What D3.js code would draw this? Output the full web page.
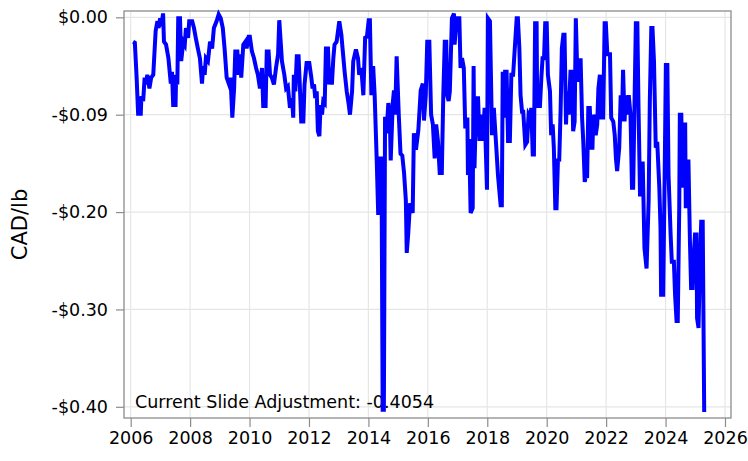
<!DOCTYPE html>
<html>
<head>
<meta charset="utf-8">
<script src="https://cdn.jsdelivr.net/npm/d3@7"></script>
<style>
  body { margin: 0; background: #fff; }
  text { font-family: "DejaVu Sans", sans-serif; fill: #000; }
</style>
</head>
<body>
<script>
// slide adjustment, CAD/lb, [decimal year, value]
var slideData = [
  [2006.08,-0.025],[2006.14,-0.026],[2006.2,-0.062],[2006.25,-0.099],[2006.34,-0.099],[2006.36,-0.081],
  [2006.42,-0.086],[2006.47,-0.062],[2006.51,-0.069],[2006.56,-0.059],[2006.63,-0.073],[2006.69,-0.062],
  [2006.76,-0.059],[2006.84,-0.014],[2006.9,-0.004],[2006.94,-0.011],[2006.99,-0.001],[2007.03,-0.009],
  [2007.09,0.004],[2007.12,-0.025],[2007.19,-0.028],[2007.27,-0.042],[2007.35,-0.068],[2007.39,-0.056],
  [2007.43,-0.090],[2007.51,-0.090],[2007.53,-0.059],[2007.57,-0.069],[2007.6,-0.001],[2007.66,-0.001],
  [2007.7,-0.045],[2007.77,-0.025],[2007.82,-0.028],[2007.86,-0.011],[2007.93,-0.021],[2007.97,-0.004],
  [2008.07,-0.004],[2008.13,-0.011],[2008.19,-0.021],[2008.26,-0.032],[2008.33,-0.042],[2008.4,-0.068],
  [2008.44,-0.050],[2008.49,-0.059],[2008.53,-0.042],[2008.6,-0.045],[2008.67,-0.025],[2008.74,-0.032],
  [2008.8,-0.011],[2008.89,-0.004],[2008.96,0.003],[2009.03,-0.001],[2009.1,-0.011],[2009.16,-0.032],
  [2009.23,-0.062],[2009.31,-0.069],[2009.36,-0.062],[2009.42,-0.103],[2009.48,-0.073],[2009.52,-0.035],
  [2009.59,-0.035],[2009.63,-0.059],[2009.68,-0.038],[2009.72,-0.062],[2009.79,-0.028],[2009.86,-0.025],
  [2009.9,-0.032],[2009.97,-0.020],[2010.01,-0.020],[2010.08,-0.035],[2010.15,-0.042],[2010.22,-0.052],
  [2010.28,-0.059],[2010.35,-0.073],[2010.42,-0.052],[2010.46,-0.091],[2010.54,-0.091],[2010.58,-0.035],
  [2010.64,-0.035],[2010.69,-0.059],[2010.75,-0.062],[2010.82,-0.069],[2010.89,-0.052],[2010.96,-0.038],
  [2011.0,-0.003],[2011.09,-0.045],[2011.17,-0.059],[2011.23,-0.073],[2011.29,-0.071],[2011.36,-0.093],
  [2011.43,-0.083],[2011.47,-0.103],[2011.49,-0.059],[2011.54,-0.076],[2011.59,-0.040],[2011.65,-0.040],
  [2011.7,-0.076],[2011.74,-0.107],[2011.81,-0.107],[2011.85,-0.069],[2011.92,-0.047],[2012.01,-0.047],
  [2012.08,-0.062],[2012.12,-0.073],[2012.17,-0.069],[2012.21,-0.083],[2012.26,-0.076],[2012.3,-0.117],
  [2012.35,-0.122],[2012.39,-0.090],[2012.44,-0.100],[2012.48,-0.086],[2012.53,-0.088],[2012.57,-0.032],
  [2012.64,-0.032],[2012.68,-0.069],[2012.73,-0.052],[2012.77,-0.069],[2012.82,-0.042],[2012.86,-0.028],
  [2012.93,-0.025],[2013.02,-0.004],[2013.09,-0.018],[2013.13,-0.032],[2013.2,-0.056],[2013.27,-0.076],
  [2013.34,-0.090],[2013.38,-0.100],[2013.45,-0.076],[2013.49,-0.045],[2013.58,-0.033],[2013.65,-0.042],
  [2013.69,-0.059],[2013.76,-0.052],[2013.83,-0.080],[2013.89,-0.021],[2013.95,-0.020],[2014.01,-0.003],
  [2014.05,-0.003],[2014.1,-0.080],[2014.16,-0.050],[2014.21,-0.080],[2014.28,-0.147],[2014.33,-0.203],
  [2014.39,-0.145],[2014.44,-0.145],[2014.48,-0.403],[2014.52,-0.403],[2014.56,-0.102],[2014.61,-0.119],
  [2014.67,-0.088],[2014.72,-0.100],[2014.75,-0.147],[2014.82,-0.088],[2014.86,-0.075],[2014.9,-0.100],
  [2014.95,-0.040],[2015.02,-0.099],[2015.08,-0.140],[2015.14,-0.142],[2015.2,-0.160],[2015.26,-0.188],
  [2015.29,-0.242],[2015.34,-0.222],[2015.4,-0.191],[2015.49,-0.201],[2015.53,-0.119],[2015.6,-0.136],
  [2015.68,-0.116],[2015.76,-0.075],[2015.83,-0.068],[2015.87,-0.106],[2015.93,-0.080],[2015.98,-0.025],
  [2016.05,-0.025],[2016.11,-0.100],[2016.17,-0.110],[2016.23,-0.145],[2016.28,-0.110],[2016.34,-0.127],
  [2016.4,-0.160],[2016.47,-0.160],[2016.52,-0.080],[2016.57,-0.025],[2016.62,-0.025],[2016.65,-0.080],
  [2016.7,-0.086],[2016.74,-0.076],[2016.81,-0.001],[2016.88,0.004],[2016.9,-0.028],[2016.97,-0.001],
  [2017.06,-0.001],[2017.1,-0.052],[2017.15,-0.042],[2017.21,-0.052],[2017.26,-0.114],[2017.33,-0.103],
  [2017.35,-0.162],[2017.39,-0.125],[2017.44,-0.201],[2017.51,-0.196],[2017.54,-0.050],[2017.57,-0.155],
  [2017.63,-0.083],[2017.69,-0.083],[2017.74,-0.127],[2017.8,-0.100],[2017.85,-0.127],[2017.91,-0.093],
  [2017.99,-0.177],[2018.02,-0.001],[2018.09,-0.004],[2018.16,-0.121],[2018.22,-0.093],[2018.29,-0.127],
  [2018.36,-0.162],[2018.45,-0.193],[2018.49,-0.193],[2018.52,-0.056],[2018.56,-0.103],[2018.6,-0.056],
  [2018.65,-0.056],[2018.7,-0.127],[2018.76,-0.127],[2018.81,-0.059],[2018.87,-0.059],[2018.94,-0.025],
  [2018.99,-0.001],[2019.03,-0.001],[2019.08,-0.032],[2019.12,-0.080],[2019.17,-0.097],[2019.21,-0.097],
  [2019.28,-0.131],[2019.34,-0.128],[2019.39,-0.100],[2019.44,-0.103],[2019.48,-0.093],[2019.53,-0.141],
  [2019.57,-0.141],[2019.61,-0.006],[2019.66,-0.006],[2019.68,-0.093],[2019.73,-0.069],[2019.77,-0.093],
  [2019.82,-0.062],[2019.86,-0.042],[2019.91,-0.042],[2019.95,-0.006],[2020.0,-0.006],[2020.04,-0.059],
  [2020.11,-0.076],[2020.15,-0.121],[2020.2,-0.110],[2020.24,-0.134],[2020.29,-0.196],[2020.33,-0.196],
  [2020.38,-0.145],[2020.42,-0.148],[2020.47,-0.093],[2020.51,-0.032],[2020.56,-0.018],[2020.6,-0.018],
  [2020.65,-0.110],[2020.69,-0.076],[2020.74,-0.100],[2020.8,-0.056],[2020.85,-0.056],[2020.89,-0.117],
  [2020.94,-0.107],[2020.98,-0.001],[2021.03,-0.059],[2021.07,-0.066],[2021.14,-0.042],[2021.19,-0.103],
  [2021.23,-0.127],[2021.28,-0.169],[2021.32,-0.162],[2021.36,-0.165],[2021.4,-0.093],[2021.45,-0.093],
  [2021.5,-0.134],[2021.54,-0.134],[2021.57,-0.100],[2021.61,-0.107],[2021.65,-0.121],[2021.7,-0.110],
  [2021.74,-0.073],[2021.79,-0.059],[2021.83,-0.103],[2021.9,-0.103],[2021.95,-0.006],[2021.99,-0.006],
  [2022.04,-0.038],[2022.13,-0.038],[2022.17,-0.103],[2022.24,-0.107],[2022.29,-0.121],[2022.33,-0.145],
  [2022.37,-0.158],[2022.44,-0.134],[2022.49,-0.080],[2022.53,-0.107],[2022.57,-0.054],[2022.62,-0.107],
  [2022.66,-0.080],[2022.71,-0.100],[2022.76,-0.080],[2022.82,-0.100],[2022.87,-0.175],[2022.91,-0.175],
  [2022.96,-0.080],[2023.0,-0.006],[2023.05,-0.006],[2023.09,-0.093],[2023.14,-0.182],[2023.18,-0.182],
  [2023.23,-0.148],[2023.29,-0.237],[2023.36,-0.258],[2023.43,-0.189],[2023.47,-0.086],[2023.52,-0.011],
  [2023.56,-0.011],[2023.61,-0.045],[2023.67,-0.134],[2023.72,-0.128],[2023.79,-0.175],[2023.83,-0.216],
  [2023.85,-0.285],[2023.92,-0.285],[2023.97,-0.162],[2024.01,-0.049],[2024.06,-0.049],[2024.1,-0.162],
  [2024.17,-0.223],[2024.21,-0.251],[2024.28,-0.251],[2024.32,-0.285],[2024.37,-0.312],[2024.41,-0.312],
  [2024.46,-0.196],[2024.48,-0.100],[2024.53,-0.100],[2024.57,-0.175],[2024.61,-0.110],[2024.66,-0.110],
  [2024.68,-0.196],[2024.73,-0.148],[2024.77,-0.148],[2024.82,-0.230],[2024.86,-0.278],[2024.91,-0.278],
  [2024.95,-0.244],[2024.99,-0.223],[2025.04,-0.223],[2025.06,-0.309],[2025.11,-0.319],[2025.15,-0.258],
  [2025.2,-0.210],[2025.25,-0.210],[2025.3,-0.4054]
];

// axis ticks
var xTicks = [2006, 2008, 2010, 2012, 2014, 2016, 2018, 2020, 2022, 2024, 2026];
var yTicks = [0, -0.1, -0.2, -0.3, -0.4];
var yTickLabels = ["$0.00", "-$0.09", "-$0.20", "-$0.30", "-$0.40"];
var yTitle = "CAD/lb";
var note = "Current Slide Adjustment: -0.4054";

var w = 748, h = 461;
var margin = {top: 11, right: 17, bottom: 43, left: 124};

var svg = d3.select("body")
  .append("svg")
  .attr("width", w)
  .attr("height", h);

// scales
var x = d3.scaleLinear()
  .domain([2005.775, 2026.202])
  .range([margin.left, w - margin.right]);
var y = d3.scaleLinear()
  .domain([0.0065, -0.4115])
  .range([margin.top, h - margin.bottom]);

// grid
svg.append("g").selectAll("line")
  .data(xTicks)
  .enter().append("line")
  .attr("x1", function(d) { return x(d); })
  .attr("x2", function(d) { return x(d); })
  .attr("y1", margin.top)
  .attr("y2", h - margin.bottom)
  .attr("stroke", "#e6e6e6")
  .attr("stroke-width", 1.2);
svg.append("g").selectAll("line")
  .data(yTicks)
  .enter().append("line")
  .attr("x1", margin.left)
  .attr("x2", w - margin.right)
  .attr("y1", function(d) { return y(d); })
  .attr("y2", function(d) { return y(d); })
  .attr("stroke", "#e6e6e6")
  .attr("stroke-width", 1.2);

// axes
var xAxis = d3.axisBottom(x)
  .tickValues(xTicks)
  .tickFormat(d3.format("d"))
  .tickSize(9)
  .tickSizeOuter(0)
  .tickPadding(5);
var yAxis = d3.axisLeft(y)
  .tickValues(yTicks)
  .tickFormat(function(d, i) { return yTickLabels[i]; })
  .tickSize(8)
  .tickSizeOuter(0)
  .tickPadding(8);

var gx = svg.append("g")
  .attr("transform", "translate(0," + (h - margin.bottom) + ")")
  .call(xAxis);
var gy = svg.append("g")
  .attr("transform", "translate(" + margin.left + ",0)")
  .call(yAxis);

[gx, gy].forEach(function(g) {
  g.select(".domain").remove();
  g.selectAll(".tick line").attr("stroke", "#8c8c8c").attr("stroke-width", 1.2);
  g.selectAll(".tick text")
    .style("font-family", "'DejaVu Sans', sans-serif")
    .style("font-size", "17.5px")
    .attr("fill", "#000");
});

// frame
svg.append("rect")
  .attr("x", margin.left)
  .attr("y", margin.top)
  .attr("width", w - margin.left - margin.right)
  .attr("height", h - margin.top - margin.bottom)
  .attr("fill", "none")
  .attr("stroke", "#8c8c8c")
  .attr("stroke-width", 1.3);

// y title
svg.append("text")
  .attr("transform", "translate(27," + ((margin.top + h - margin.bottom) / 2 + 10) + ") rotate(-90)")
  .attr("text-anchor", "middle")
  .style("font-size", "21px")
  .text(yTitle);

// note inside plot
svg.append("text")
  .attr("x", margin.left + 11)
  .attr("y", 408)
  .style("font-size", "17.5px")
  .text(note);

// line
var line = d3.line()
  .x(function(d) { return x(d[0]); })
  .y(function(d) { return y(d[1]); });

svg.append("path")
  .datum(slideData)
  .attr("d", line)
  .attr("fill", "none")
  .attr("stroke", "#0000ff")
  .attr("stroke-width", 4);
</script>
</body>
</html>
